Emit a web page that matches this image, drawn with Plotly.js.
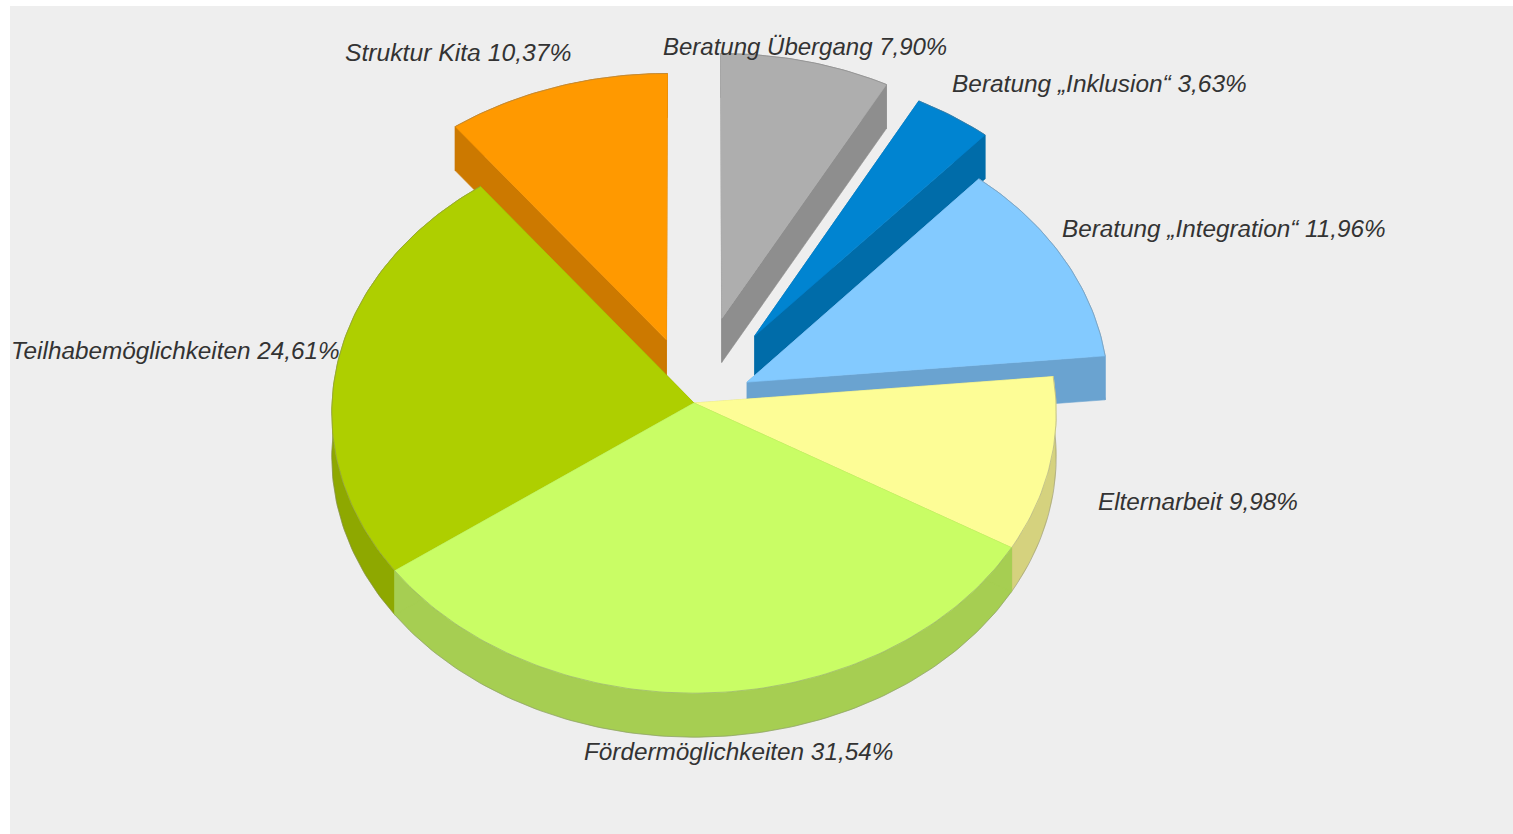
<!DOCTYPE html>
<html>
<head>
<meta charset="utf-8">
<script src="https://cdn.plot.ly/plotly-3.0.1.min.js"></script>
<style>html,body{margin:0;padding:0;background:#fff}#chart{width:1513px;height:834px}</style>
</head>
<body>
<div id="chart"></div>
<script>
// Data: clockwise from twelve o'clock
const categories = ['Beratung Übergang', 'Beratung „Inklusion“', 'Beratung „Integration“', 'Elternarbeit', 'Fördermöglichkeiten', 'Teilhabemöglichkeiten', 'Struktur Kita'];
const percentages = [7.90, 3.63, 11.96, 9.98, 31.54, 24.61, 10.37];

// Styling and projection, separate from the data
const explode = [0.315, 0.295, 0.165, 0, 0, 0, 0.24];
const topColors = ['#aeaeae', '#0084d1', '#83caff', '#fdfd96', '#c9fd65', '#aecf00', '#ff9900'];
const sideColors = ['#8e8e8e', '#006ca9', '#6aa3d0', '#d5d27e', '#a6ce52', '#8ea800', '#cc7900'];
const drawOrder = [6, 0, 1, 2, 3, 5, 4];
const labelX = [662, 951, 1061, 1097, 583, 10, 344];
const labelY = [46, 83, 228, 501, 751, 350, 52];
const labelSize = [24, 24.45, 24.3, 24.3, 24.3, 24.3, 24.7];
const view = {cx: 694, cy: 403, A: 362, B: 280, k: 0.035, depth: 44};

function project(u, v) {
  const w = 1 + view.k * v;
  return [view.cx + view.A * u / w, view.cy - view.B * v / w];
}
const total = percentages.reduce((a, b) => a + b, 0);
let cumulative = 0;
const slices = percentages.map((p, i) => {
  const t0 = cumulative / total * 2 * Math.PI;
  cumulative += p;
  const t1 = cumulative / total * 2 * Math.PI;
  const mid = (t0 + t1) / 2;
  const ou = explode[i] * Math.sin(mid), ov = explode[i] * Math.cos(mid);
  const n = Math.max(8, Math.ceil((t1 - t0) * 180 / Math.PI));
  const arc = [];
  for (let s = 0; s <= n; s++) {
    const t = t0 + (t1 - t0) * s / n;
    arc.push(project(ou + Math.sin(t), ov + Math.cos(t)));
  }
  return {apex: project(ou, ov), arc};
});

const traces = [];
function addPolygon(pts, color, text) {
  traces.push({
    type: 'scatter', mode: 'lines', fill: 'toself', fillcolor: color,
    x: pts.map(q => q[0]), y: pts.map(q => q[1]),
    line: {width: 0.6, color: color}, text: text, hoverinfo: 'text', showlegend: false
  });
}
function addLine(pts) {
  traces.push({
    type: 'scatter', mode: 'lines', x: pts.map(q => q[0]), y: pts.map(q => q[1]),
    line: {width: 0.8, color: 'rgba(120,120,120,0.5)'}, hoverinfo: 'skip', showlegend: false
  });
}
const label = i => categories[i] + ' ' + percentages[i].toFixed(2).replace('.', ',') + '%';
const down = q => [q[0], q[1] + view.depth];

drawOrder.forEach(i => {
  const sl = slices[i];
  const first = sl.arc[0], last = sl.arc[sl.arc.length - 1];
  // curved rim and its lower edge, then the cut faces, then the top face over them
  addPolygon([...sl.arc, ...sl.arc.map(down).reverse(), first], sideColors[i], label(i));
  addLine(sl.arc.map(down));
  addPolygon([sl.apex, first, down(first), down(sl.apex), sl.apex], sideColors[i], label(i));
  addPolygon([sl.apex, last, down(last), down(sl.apex), sl.apex], sideColors[i], label(i));
  addPolygon([sl.apex, ...sl.arc, sl.apex], topColors[i], label(i));
  addLine(sl.arc);
});

const annotations = categories.map((c, i) => ({
  x: labelX[i], y: labelY[i], xref: 'x', yref: 'y', xanchor: 'left', yanchor: 'middle',
  text: label(i), showarrow: false, borderpad: 0,
  font: {family: 'Liberation Sans', size: labelSize[i], color: '#333333', style: 'italic'}
}));

const layout = {
  width: 1513, height: 834,
  margin: {l: 10, r: 0, t: 6, b: 0, pad: 0},
  paper_bgcolor: '#ffffff', plot_bgcolor: '#eeeeee',
  xaxis: {range: [10, 1513], visible: false, fixedrange: true},
  yaxis: {range: [834, 6], visible: false, fixedrange: true},
  annotations, showlegend: false
};
Plotly.newPlot('chart', traces, layout, {displayModeBar: false});
</script>
</body>
</html>
